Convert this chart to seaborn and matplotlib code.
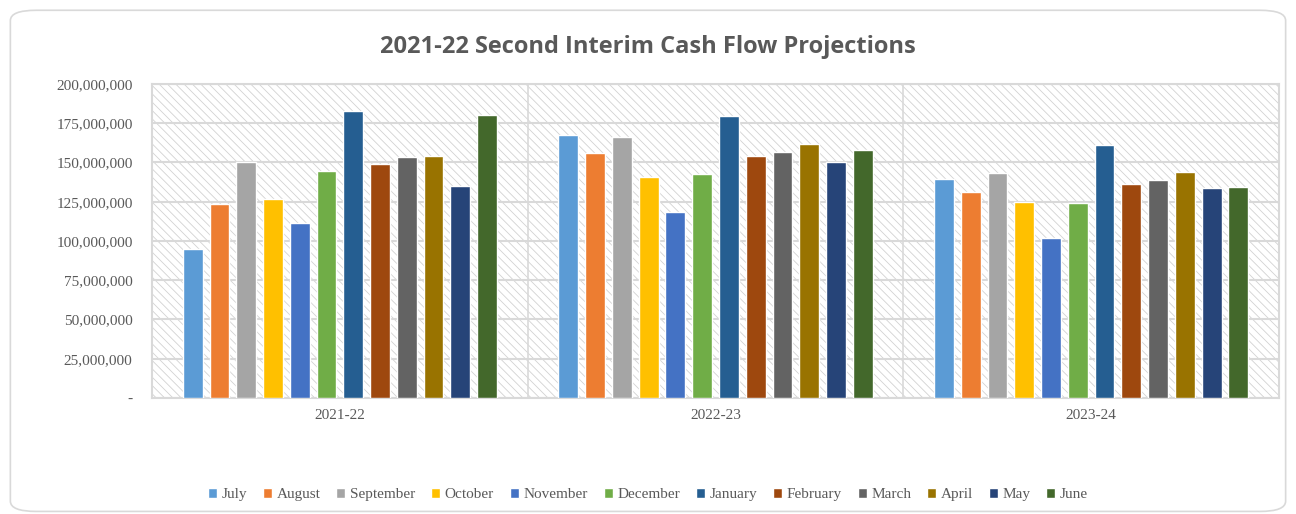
import seaborn as sns
import matplotlib.pyplot as plt
import pandas as pd
from matplotlib.patches import Rectangle, FancyBboxPatch
from matplotlib.ticker import FuncFormatter

years = ['2021-22', '2022-23', '2023-24']
months = ['July', 'August', 'September', 'October', 'November', 'December',
          'January', 'February', 'March', 'April', 'May', 'June']
vals_2122 = [94.6, 123.7, 150.0, 126.5, 111.6, 144.3, 183.0, 149.0, 153.7, 154.3, 135.2, 180.2]
vals_2223 = [167.5, 155.8, 166.4, 140.9, 118.4, 142.6, 179.6, 154.3, 156.4, 161.7, 150.3, 158.2]
vals_2324 = [139.2, 131.1, 143.3, 124.8, 102.2, 124.4, 161.1, 136.5, 138.6, 143.7, 133.5, 134.6]
colors = ['#5B9BD5', '#ED7D31', '#A5A5A5', '#FFC000', '#4472C4', '#70AD47',
          '#255E91', '#9E480E', '#636363', '#997300', '#264478', '#43682B']

rows = []
for yr, vals in zip(years, [vals_2122, vals_2223, vals_2324]):
    for m, v in zip(months, vals):
        rows.append({'year': yr, 'month': m, 'value': v * 1e6})
df = pd.DataFrame(rows)

sns.set_style('white')
plt.rcParams['font.family'] = ['Liberation Serif', 'DejaVu Serif']
plt.rcParams['hatch.linewidth'] = 0.6
plt.rcParams['hatch.color'] = '#d2d2d2'

fig = plt.figure(figsize=(12.96, 5.14), dpi=100)
ax = fig.add_axes([0.1173, 0.2257, 0.8696, 0.6109])

# chart border
fig.patches.append(FancyBboxPatch((0.008, 0.005), 0.984, 0.975, boxstyle='round,pad=0,rounding_size=0.02',
                                  transform=fig.transFigure, facecolor='none', edgecolor='#d9d9d9', lw=1.2))

# hatched plot area
ax.add_patch(Rectangle((0, 0), 1, 1, transform=ax.transAxes, facecolor='white',
                       edgecolor='#d2d2d2', hatch='\\\\\\\\', lw=0, zorder=0))

sns.barplot(data=df, x='year', y='value', hue='month', hue_order=months, palette=colors,
            width=0.855, gap=0.26, saturation=1, ax=ax, zorder=3, legend=True)

ax.set_ylim(0, 200e6)
ax.set_yticks(range(0, 200000001, 25000000))
ax.yaxis.set_major_formatter(FuncFormatter(lambda v, p: '-' if v == 0 else f'{int(v):,}'))
ax.grid(axis='y', color='#d9d9d9', lw=1.5, zorder=1)
for xv in [0.5, 1.5]:
    ax.axvline(xv, color='#d9d9d9', lw=1.2, zorder=1)
ax.set_xlim(-0.5, 2.5)
ax.set_xlabel('')
ax.set_ylabel('')
for s in ax.spines.values():
    s.set_color('#d9d9d9')
    s.set_linewidth(1.5)
ax.tick_params(axis='both', length=0, colors='#595959', labelsize=11)
ax.tick_params(axis='y', pad=14)
ax.tick_params(axis='x', pad=8)

handles, labels = ax.get_legend_handles_labels()
ax.legend_.remove()
fig.legend(handles, labels, loc='center', bbox_to_anchor=(0.5, 0.038), ncol=12, frameon=False,
           fontsize=11, handlelength=0.6, handleheight=0.6, handletextpad=0.3, columnspacing=1.03,
           labelcolor='#595959')

fig.text(0.5, 0.908, '2021-22 Second Interim Cash Flow Projections', ha='center', va='center',
         fontsize=17, fontweight='bold', color='#595959', family=['Open Sans', 'DejaVu Sans'])

fig.savefig('out.png', dpi=100)
